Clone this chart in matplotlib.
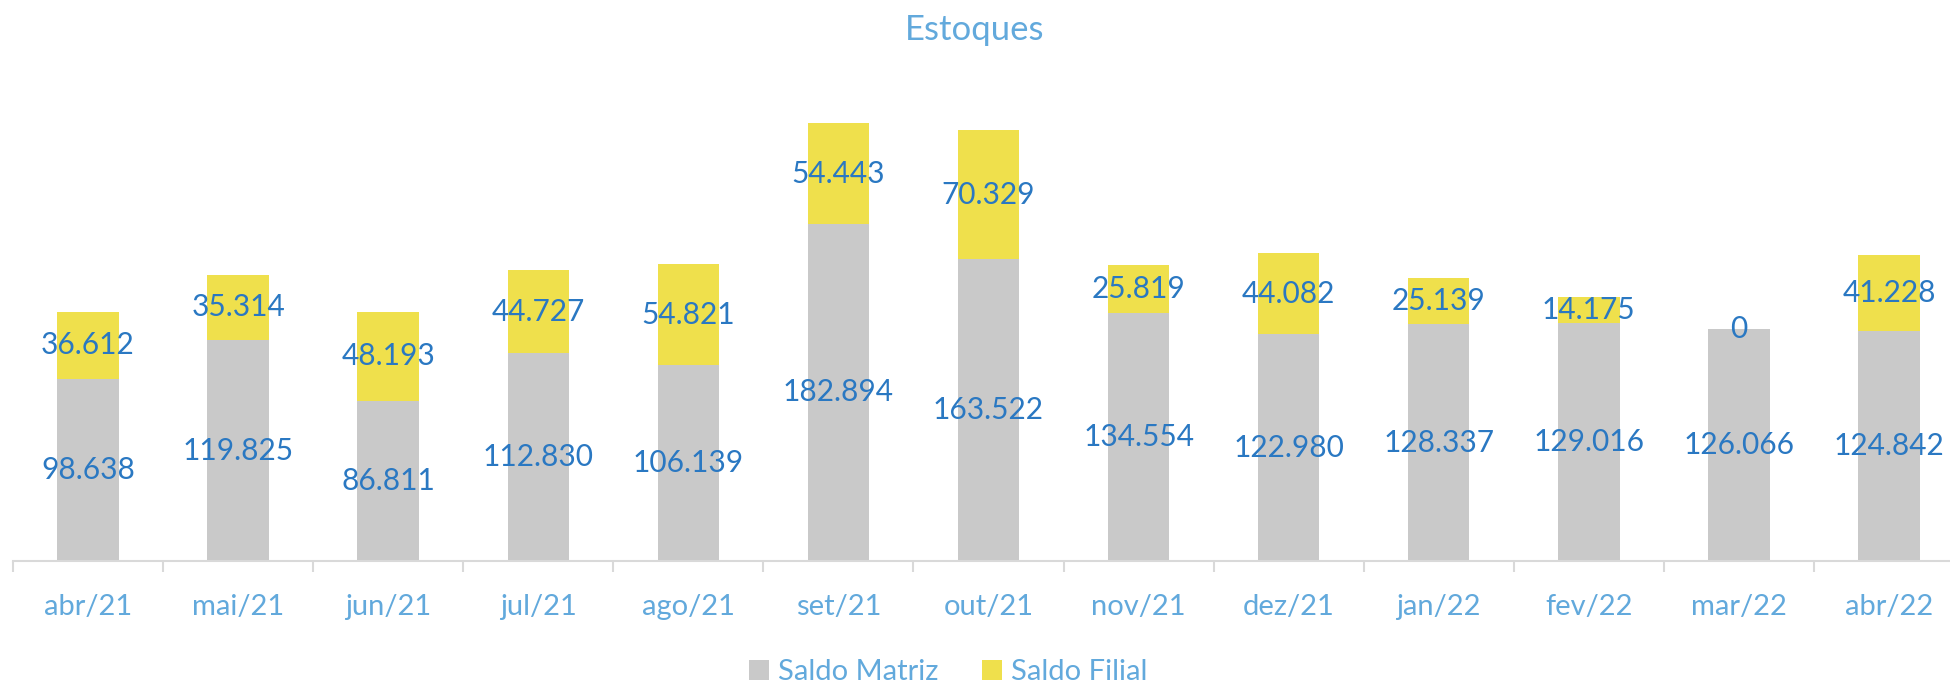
import numpy as np
import matplotlib
matplotlib.use("Agg")
import matplotlib.pyplot as plt

# data
meses = ["abr/21", "mai/21", "jun/21", "jul/21", "ago/21", "set/21", "out/21",
         "nov/21", "dez/21", "jan/22", "fev/22", "mar/22", "abr/22"]
saldo_matriz = [98.638, 119.825, 86.811, 112.830, 106.139, 182.894, 163.522,
                134.554, 122.980, 128.337, 129.016, 126.066, 124.842]
saldo_filial = [36.612, 35.314, 48.193, 44.727, 54.821, 54.443, 70.329,
                25.819, 44.082, 25.139, 14.175, 0, 41.228]

cor_matriz = "#C9C9C9"
cor_filial = "#EFE04C"
cor_rotulo = "#2A78C2"
cor_texto = "#62A9DC"

plt.rcParams['font.family'] = ['Lato', 'DejaVu Sans']

fig = plt.figure(figsize=(19.5, 6.86), dpi=100)
ax = fig.add_axes([13 / 1950, 125 / 686, 1951 / 1950, 461 / 686])

x = np.arange(len(meses))
b1 = ax.bar(x, saldo_matriz, width=0.41, color=cor_matriz, label="Saldo Matriz")
b2 = ax.bar(x, saldo_filial, width=0.41, bottom=saldo_matriz, color=cor_filial,
            label="Saldo Filial")

fmt = lambda v: "0" if v == 0 else f"{v:.3f}"
ax.bar_label(b1, labels=[fmt(v) for v in saldo_matriz], label_type="center",
             color=cor_rotulo, fontsize=21.5)
ax.bar_label(b2, labels=[fmt(v) for v in saldo_filial], label_type="center",
             color=cor_rotulo, fontsize=21.5)

ax.set_xlim(-0.5, len(meses) - 0.5)
ax.set_ylim(0, 250)
ax.set_xticks(x)
ax.set_xticklabels(meses, color=cor_texto, fontsize=21)
ax.set_xticks(np.arange(-0.5, len(meses)), minor=True)
ax.tick_params(axis="x", which="major", length=0, pad=24)
ax.tick_params(axis="x", which="minor", length=8, width=1.5, color="#D9D9D9")
ax.set_yticks([])
for s in ["top", "right", "left"]:
    ax.spines[s].set_visible(False)
ax.spines["bottom"].set_color("#D9D9D9")
ax.spines["bottom"].set_linewidth(1.5)

fig.text(975 / 1950, 1 - 30 / 686, "Estoques", ha="center", va="center",
         color=cor_texto, fontsize=25)

leg = fig.legend(loc="center", bbox_to_anchor=(948 / 1950, 1 - 672 / 686), ncol=2,
                 frameon=False, fontsize=21, handlelength=0.7, handleheight=0.7,
                 handletextpad=0.3, columnspacing=1.5)
for t in leg.get_texts():
    t.set_color(cor_texto)

fig.savefig("out.png", dpi=100)
